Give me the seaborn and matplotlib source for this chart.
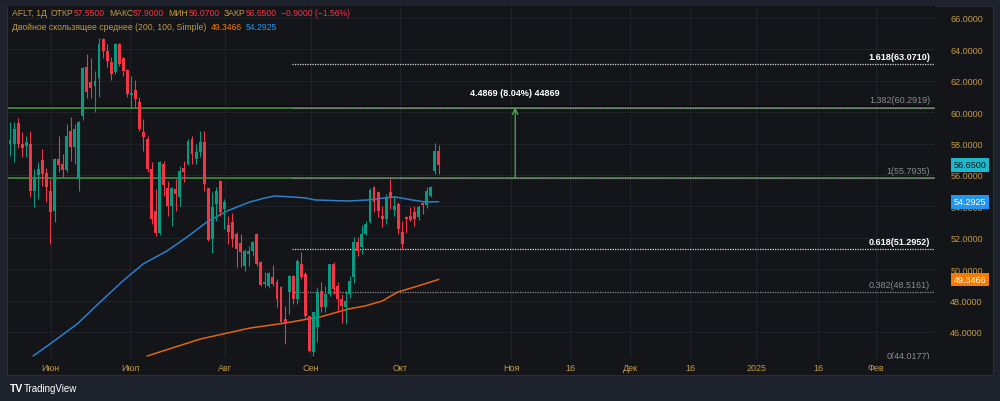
import numpy as np
import pandas as pd
import matplotlib.pyplot as plt
import matplotlib.transforms as mtransforms
from matplotlib.patches import Rectangle
import seaborn as sns

# Daily candles AFLT
opens = [58.00, 57.97, 59.31, 57.97, 57.85, 57.97, 54.98, 56.00, 56.96, 56.13,
         54.98, 53.70, 57.02, 56.70, 56.32, 58.80, 57.78, 55.75, 59.76, 62.88,
         61.92, 61.67, 62.18, 64.66, 63.90, 63.20, 62.56, 64.34, 63.45, 62.69,
         61.10, 61.41, 60.65, 58.74, 58.29, 56.38, 53.71, 52.31, 56.70, 55.17,
         54.03, 55.11, 54.60, 56.45, 56.70, 58.29, 57.02, 57.47, 58.10, 55.17,
         51.92, 54.15, 55.62, 53.83, 52.82, 53.01, 52.24, 51.67, 50.20, 50.97,
         51.16, 52.24, 50.46, 49.06, 48.93, 49.50, 49.19, 48.87, 46.83, 48.55,
         49.57, 48.10, 50.33, 49.69, 47.02, 44.73, 46.32, 48.61, 47.59, 48.42,
         50.33, 48.93, 48.10, 47.59, 48.42, 49.50, 51.73, 51.41, 52.24, 53.01,
         55.24, 54.92, 53.39, 53.20, 54.92, 53.77, 54.15, 52.37, 53.33, 53.39,
         53.64, 53.33, 54.22, 54.09, 54.66, 56.26, 57.55]
highs = [59.38, 59.38, 59.60, 58.74, 58.50, 58.80, 56.40, 56.83, 57.66, 56.45,
         55.75, 57.08, 58.48, 57.34, 59.25, 59.70, 59.25, 59.45, 62.90, 63.70,
         63.45, 62.63, 64.73, 64.73, 64.34, 63.52, 64.40, 64.40, 63.52, 62.75,
         62.30, 62.05, 60.97, 59.57, 58.48, 56.83, 55.11, 56.90, 56.90, 55.62,
         55.24, 55.75, 56.57, 56.90, 58.29, 58.48, 57.97, 58.80, 58.80, 55.20,
         54.90, 55.24, 55.68, 54.47, 53.39, 53.58, 52.37, 52.24, 51.29, 51.48,
         51.80, 52.30, 50.50, 49.82, 49.82, 50.27, 49.38, 48.90, 47.66, 49.63,
         49.60, 50.65, 51.10, 49.82, 47.05, 47.30, 48.87, 49.19, 48.93, 50.36,
         50.46, 49.19, 48.42, 48.61, 49.57, 52.05, 52.05, 52.82, 53.07, 55.17,
         55.30, 54.98, 54.03, 54.79, 55.75, 54.66, 54.28, 53.07, 53.36, 53.96,
         54.03, 54.09, 54.28, 55.24, 55.30, 58.04, 57.90]
lows = [57.20, 56.83, 57.70, 57.15, 57.15, 54.60, 53.96, 54.47, 55.30, 54.28,
        51.60, 53.00, 56.19, 55.87, 56.19, 56.90, 56.70, 54.98, 59.50, 60.90,
        60.90, 60.00, 60.97, 63.45, 62.88, 62.05, 62.43, 62.94, 62.30, 60.97,
        60.20, 60.33, 58.80, 57.53, 56.19, 52.88, 52.11, 52.20, 54.66, 53.39,
        52.75, 53.71, 54.03, 55.55, 56.64, 56.70, 56.70, 57.15, 54.98, 51.80,
        51.00, 53.07, 53.39, 52.56, 51.60, 51.41, 50.14, 50.14, 49.89, 50.20,
        50.84, 50.20, 48.90, 48.87, 48.80, 48.93, 47.59, 46.50, 45.24, 47.15,
        47.80, 47.78, 49.38, 46.83, 44.73, 44.47, 45.36, 47.27, 47.27, 48.29,
        48.42, 47.27, 46.57, 46.51, 48.17, 49.12, 50.84, 50.97, 52.20, 52.95,
        53.64, 53.33, 52.69, 52.88, 53.83, 53.39, 52.24, 51.29, 52.31, 53.07,
        52.75, 53.14, 53.52, 53.90, 54.60, 56.06, 56.07]
closes = [58.20, 58.93, 57.97, 57.72, 58.10, 54.98, 55.80, 56.38, 56.06, 55.24,
          53.64, 57.02, 56.64, 56.32, 58.48, 57.78, 58.93, 59.38, 62.82, 61.29,
          61.54, 61.99, 64.34, 63.90, 63.26, 62.43, 64.34, 63.07, 62.62, 61.16,
          61.22, 60.84, 58.93, 58.42, 56.38, 53.20, 52.31, 56.83, 55.36, 54.03,
          55.17, 54.79, 56.26, 56.19, 58.17, 57.34, 57.47, 58.10, 55.43, 51.86,
          53.96, 54.98, 53.64, 54.28, 52.37, 51.92, 51.29, 51.10, 51.16, 51.16,
          51.73, 50.33, 48.99, 49.19, 49.76, 49.06, 48.10, 46.64, 46.57, 49.57,
          48.10, 50.52, 49.50, 47.02, 44.79, 47.27, 48.55, 47.59, 48.42, 50.33,
          48.74, 48.10, 47.66, 47.98, 49.25, 51.73, 51.16, 52.24, 52.88, 55.04,
          54.28, 53.71, 53.20, 54.60, 54.54, 54.03, 52.56, 51.60, 53.20, 53.14,
          53.20, 53.96, 54.09, 54.98, 55.24, 57.53, 56.65]

# moving averages, points (bar index, price)
sma100_x = [5.7, 9.9, 16.6, 22.3, 27.9, 32.9, 38.8, 43.8, 48.7, 53.7, 59.3, 63.1,
            65.5, 69.7, 72.9, 75.4, 83.6, 88.5, 92.7, 95.2, 99.4, 102.6, 106]
sma100_y = [44.47, 45.24, 46.51, 47.91, 49.25, 50.33, 51.16, 52.05, 53.01, 53.71, 54.28, 54.54,
            54.66, 54.60, 54.54, 54.41, 54.34, 54.41, 54.54, 54.60, 54.41, 54.28, 54.2925]
sma200_x = [33.9, 47.0, 59.3, 68.0, 76.7, 83.6, 87.8, 92.0, 95.9, 100.1, 106]
sma200_y = [44.47, 45.55, 46.25, 46.57, 46.96, 47.46, 47.66, 47.97, 48.55, 48.87, 49.3466]

fib_levels = ['1.618', '1.382', '1', '0.618', '0.382', '0']
fib_prices = [63.0710, 60.2919, 55.7935, 51.2952, 48.5161, 44.0177]

time_ticks = [10.1, 29.7, 53.2, 74.4, 96.4, 123.9, 138.5, 153.3, 168.2, 184.5, 199.8, 214.1]
time_labels = ['Июн', 'Июл', 'Авг', 'Сен', 'Окт', 'Ноя', '16', 'Дек', '16', '2025', '16', 'Фев']
price_ticks = [46, 48, 50, 52, 54, 56, 58, 60, 62, 64, 66]

BG_OUT = '#1e222c'
BG = '#131519'
GOLD = '#c49b46'
UP = '#089981'
DOWN = '#f23645'

sns.set_style('dark')
plt.rcParams['font.family'] = ['Liberation Sans', 'DejaVu Sans']

df = pd.DataFrame({'o': opens, 'h': highs, 'l': lows, 'c': closes})
df['i'] = np.arange(len(df))
df['up'] = df['c'] >= df['o']
df['col'] = np.where(df['up'], UP, DOWN)

fig = plt.figure(figsize=(10, 4.02), dpi=100)
fig.set_facecolor(BG_OUT)
fig.patches.append(Rectangle((7 / 1000, 1 - 376 / 402), 986 / 1000, 369 / 402,
                             transform=fig.transFigure, facecolor=BG, edgecolor='#2a2e39',
                             lw=0.8, zorder=-10))
ax = fig.add_axes([8 / 1000, 1 - 360 / 402, 927 / 1000, 353 / 402])
ax.set_zorder(1)
ax.set_facecolor(BG)
for s in ax.spines.values():
    s.set_visible(False)

ax.set_xlim(-0.5, 228.7)
ax.set_ylim(44.28, 66.76)

# grid
ax.set_xticks(time_ticks)
ax.set_xticklabels(time_labels)
ax.set_yticks(price_ticks)
ax.set_yticklabels([f'{v:.4f}' for v in price_ticks])
ax.yaxis.tick_right()
ax.grid(True, color='#1f2228', lw=0.8)
ax.tick_params(axis='x', length=0, pad=3, labelsize=6.5, labelcolor=GOLD)
ax.tick_params(axis='y', length=0, pad=11, labelsize=6.5, labelcolor=GOLD)

# green levels across the whole pane
for p in [60.2919, 55.7935]:
    ax.axhline(p + 0.07, color='#08090b', lw=1.0, zorder=2)
    ax.axhline(p, color='#4b9a45', lw=1.1, zorder=2)

# fibonacci levels
fib_start = 69.7
for lev, p in zip(fib_levels, fib_prices):
    strong = lev in ('1.618', '0.618')
    col = '#d8d8d8' if strong else '#8a8c90'
    ax.hlines(p, fib_start, 228.7, colors=col, lw=0.9, linestyles=(0, (1, 1)), zorder=2)
    ax.text(227.5, p + 0.2, f'{lev}({p:.4f})', ha='right', va='bottom', fontsize=6.5,
            color='white' if strong else '#8a8c90', fontweight='bold' if strong else 'normal',
            zorder=5, clip_on=True)

# moving averages
sns.lineplot(x=sma200_x, y=sma200_y, ax=ax, color='#e2650f', lw=1.1, zorder=3)
sns.lineplot(x=sma100_x, y=sma100_y, ax=ax, color='#2b7fd0', lw=1.1, zorder=3)

# candles
ax.vlines(df['i'], df['l'], df['h'], colors=df['col'], lw=0.8, zorder=4)
body_lo = np.minimum(df['o'], df['c'])
body_h = np.maximum(np.abs(df['c'] - df['o']), 0.07)
ax.bar(df['i'], body_h, bottom=body_lo, width=0.72, color=df['col'], lw=0, zorder=4)

# price range measurement
ax.annotate('', xy=(124.9, 60.2919), xytext=(124.9, 55.7935),
            arrowprops=dict(arrowstyle='->', color='#4caf50', lw=0.9, shrinkA=0, shrinkB=0),
            zorder=5)
ax.text(124.9, 61.25, '4.4869 (8.04%) 44869', ha='center', va='center', fontsize=6.5,
        color='white', fontweight='bold')

# last value tags on the price scale
tr = mtransforms.blended_transform_factory(fig.transFigure, ax.transData)
for val, fc, tc in [(56.65, '#1cb8cc', '#101418'), (54.2925, '#2196f3', 'white'),
                    (49.3466, '#f57c00', 'white')]:
    ax.text(970 / 1000, val, f'{val:.4f}', transform=tr, ha='center', va='center',
            fontsize=6.5, color=tc, zorder=10, clip_on=False,
            bbox=dict(boxstyle='square,pad=0.25', fc=fc, ec='none'))


# header: pieces chained one after another
def header(y, parts):
    prev = fig.text(12 / 1000, 1 - y / 402, parts[0][0], color=parts[0][1],
                    fontsize=6.2, va='center', ha='left')
    for s, c, gap in parts[1:]:
        prev = ax.annotate(s, xy=(1, 0.5), xycoords=prev, xytext=(gap, 0),
                           textcoords='offset points', color=c, fontsize=6.2,
                           va='center', ha='left', annotation_clip=False)


header(14, [('AFLT, 1Д', GOLD, 0),
            ('ОТКР', GOLD, 3), ('57.5500', DOWN, 0),
            ('МАКС', GOLD, 3), ('57.9000', DOWN, 0),
            ('МИН', GOLD, 3), ('56.0700', DOWN, 0),
            ('ЗАКР', GOLD, 3), ('56.6500', DOWN, 0),
            ('−0.9000 (−1.56%)', DOWN, 3)])
header(28, [('Двойное скользящее среднее (200, 100, Simple)', GOLD, 0),
            ('49.3466', '#f57c00', 3), ('54.2925', '#2196f3', 3)])

# TradingView mark
fig.text(10 / 1000, 1 - 389 / 402, 'TV', color='white', fontsize=7.5, fontweight='bold',
         va='center', ha='left')
fig.text(24 / 1000, 1 - 389 / 402, 'TradingView', color='white', fontsize=7,
         va='center', ha='left')

fig.savefig('out.png', dpi=100, facecolor=BG_OUT)
